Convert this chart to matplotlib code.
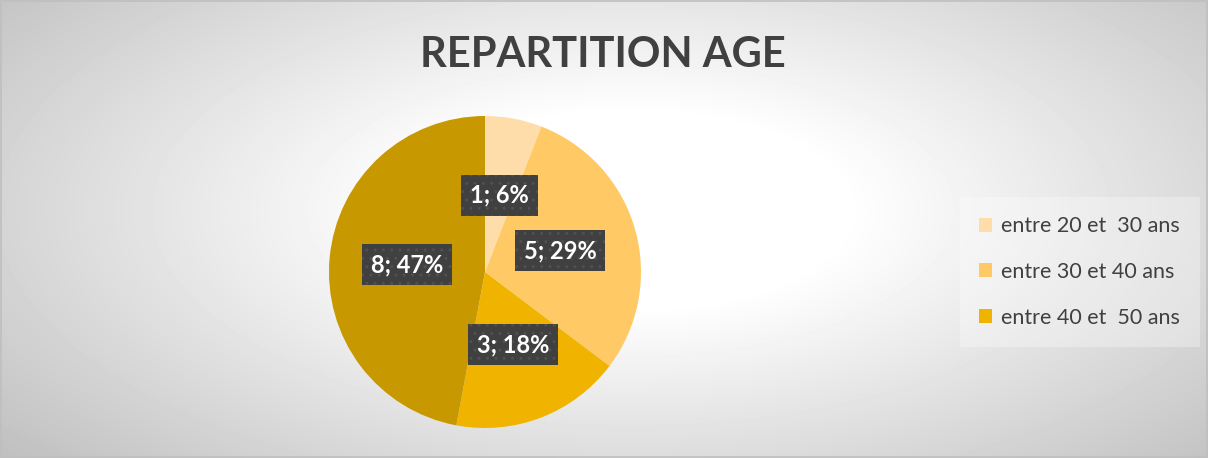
import numpy as np
import matplotlib.pyplot as plt

# données
labels = ['entre 20 et  30 ans', 'entre 30 et 40 ans', 'entre 40 et  50 ans', 'plus de 50 ans']
counts = [1, 5, 3, 8]
colors = ['#FFDDAA', '#FFC966', '#F0B400', '#C89800']
legend_n = 3  # seules 3 entrées visibles dans la légende

plt.rcParams['font.family'] = ['Lato', 'DejaVu Sans']

W, H = 1208, 458
fig = plt.figure(figsize=(W / 100, H / 100), dpi=100)

# fond dégradé radial
bg = fig.add_axes([0, 0, 1, 1])
yy, xx = np.mgrid[0:H, 0:W]
r = np.sqrt(((xx - 630) / 720.0) ** 2 + ((yy - 210) / 323.0) ** 2)
shade = np.clip(1.0 - 0.29 * np.clip(r - 0.3, 0, None), 0.72, 1.0)
bg.imshow(shade, cmap='gray', vmin=0, vmax=1, extent=[0, W, H, 0], aspect='auto')
bg.set_xlim(0, W)
bg.set_ylim(H, 0)
bg.axis('off')
bg.add_patch(plt.Rectangle((0.5, 0.5), W - 1.5, H - 1.5, fill=False,
                           edgecolor='#bfbfbf', linewidth=1.2))

fig.text(603 / W, 1 - 55 / H, 'REPARTITION AGE', ha='center', va='center',
         fontsize=30, fontweight='bold', color='#404040')

# camembert
ax = fig.add_axes([329 / W, 30 / H, 312 / W, 312 / H])
total = sum(counts)

def fmt(p):
    n = int(round(p * total / 100.0))
    return f'{n}; {p:.0f}%'

wedges, texts, autotexts = ax.pie(counts, colors=colors, startangle=90, counterclock=False,
                                  autopct=fmt, pctdistance=0.5, radius=1,
                                  wedgeprops=dict(linewidth=0))
for t in autotexts:
    t.set_color('white')
    t.set_fontsize(17)
    t.set_fontweight('bold')
    t.set_bbox(dict(boxstyle='square,pad=0.38', facecolor='#404040', edgecolor='#505050',
                    linewidth=0, hatch='..'))
ax.set_xlim(-1, 1)
ax.set_ylim(-1, 1)
ax.set_aspect('equal')
ax.axis('off')

leg = fig.legend(wedges[:legend_n], labels[:legend_n], loc='center left',
                 bbox_to_anchor=(966 / W, 1 - 272 / H), frameon=True, fontsize=15.5,
                 labelcolor='#404040', handlelength=0.62, handleheight=0.62,
                 handletextpad=0.42, labelspacing=1.2, borderpad=0.6, borderaxespad=0)
leg.get_frame().set_facecolor('white')
leg.get_frame().set_alpha(0.3)
leg.get_frame().set_linewidth(0)
leg.get_frame().set_boxstyle('square')

fig.savefig('out.png', dpi=100)
